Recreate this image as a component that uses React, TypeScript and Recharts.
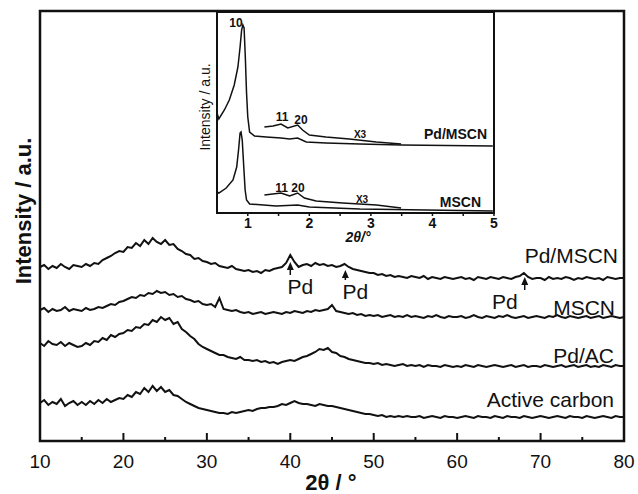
import React from 'react';
import { LineChart, Line, XAxis, YAxis, ReferenceArea, ReferenceLine, ReferenceDot } from 'recharts';

// 2theta grid (deg)
const theta = [
  10, 10.5, 11, 11.5, 12, 12.5, 13, 13.5, 14, 14.5,
  15, 15.5, 16, 16.5, 17, 17.5, 18, 18.5, 19, 19.5,
  20, 20.5, 21, 21.5, 22, 22.5, 23, 23.5, 24, 24.5,
  25, 25.5, 26, 26.5, 27, 27.5, 28, 28.5, 29, 29.5,
  30, 30.5, 31, 31.5, 32, 32.5, 33, 33.5, 34, 34.5,
  35, 35.5, 36, 36.5, 37, 37.5, 38, 38.5, 39, 39.5,
  40, 40.5, 41, 41.5, 42, 42.5, 43, 43.5, 44, 44.5,
  45, 45.5, 46, 46.5, 47, 47.5, 48, 48.5, 49, 49.5,
  50, 50.5, 51, 51.5, 52, 52.5, 53, 53.5, 54, 54.5,
  55, 55.5, 56, 56.5, 57, 57.5, 58, 58.5, 59, 59.5,
  60, 60.5, 61, 61.5, 62, 62.5, 63, 63.5, 64, 64.5,
  65, 65.5, 66, 66.5, 67, 67.5, 68, 68.5, 69, 69.5,
  70, 70.5, 71, 71.5, 72, 72.5, 73, 73.5, 74, 74.5,
  75, 75.5, 76, 76.5, 77, 77.5, 78, 78.5, 79, 79.5,
  80,
];

// stacked intensities (a.u., offset traces)
const pdMscn = [
  174, 176, 172, 175, 173, 177, 174, 172, 176, 175,
  174, 177, 175, 178, 177, 181, 183, 185, 188, 190,
  189, 194, 193, 198, 195, 201, 197, 203, 199, 197,
  201, 196, 197, 192, 190, 187, 186, 182, 183, 180,
  179, 177, 178, 175, 174, 173, 175, 172, 171, 170,
  171, 169, 170, 168, 171, 170, 172, 173, 174, 178,
  186, 179, 174, 176, 177, 175, 178, 176, 177, 175,
  176, 174, 175, 177, 174, 172, 171, 170, 169, 168,
  168, 166, 167, 165, 166, 164, 165, 164, 163, 165,
  164, 163, 165, 162, 164, 163, 162, 164, 163, 162,
  163, 164, 162, 163, 161, 164, 163, 162, 164, 163,
  162, 164, 163, 162, 164, 165, 168, 164, 162, 163,
  163, 161, 164, 162, 163, 162, 164, 163, 161, 163,
  162, 164, 163, 162, 163, 161, 164, 163, 162, 163,
  163,
];

const mscn = [
  131, 133, 129, 132, 130, 131, 134, 130, 132, 131,
  130, 133, 131, 132, 134, 133, 135, 137, 136, 139,
  140, 142, 144, 143, 146, 145, 148, 147, 150, 148,
  149, 146, 147, 144, 145, 142, 141, 139, 140, 137,
  136, 137, 134, 143, 132, 131, 130, 131, 129, 128,
  129, 127, 128, 129, 127, 128, 129, 128, 127, 129,
  128, 130, 129, 128, 130, 129, 131, 130, 131, 132,
  136, 130, 129, 128, 127, 128, 126, 127, 125, 126,
  125, 126, 124, 125, 126, 124, 125, 124, 126, 124,
  125, 124, 123, 125, 124, 126, 124, 123, 125, 124,
  124, 125, 123, 124, 126, 124, 123, 125, 124, 123,
  125, 124, 126, 124, 123, 124, 125, 123, 124, 125,
  124, 123, 125, 124, 126, 124, 123, 125, 124, 123,
  124, 125, 123, 124, 125, 123, 124, 125, 124, 123,
  124,
];

const pdAc = [
  98, 95, 100, 97, 96, 99, 95, 98, 96, 94,
  95, 98, 96, 100, 99, 103, 101, 106, 104, 107,
  108, 111, 110, 114, 113, 117, 116, 121, 119, 124,
  121, 123, 117, 119, 112, 109, 105, 102, 97, 94,
  92, 90, 88, 86, 86, 84, 83, 82, 84, 81,
  81, 80, 81, 79, 80, 78, 79, 77, 79, 80,
  81, 80, 82, 84, 85, 87, 89, 92, 91, 93,
  89, 88, 85, 84, 82, 81, 80, 79, 78, 78,
  77, 78, 76, 77, 76, 75, 76, 77, 75, 76,
  75, 76, 74, 76, 75, 75, 74, 76, 75, 74,
  75, 74, 76, 75, 74, 76, 75, 74, 75, 76,
  75, 74, 75, 76, 74, 75, 76, 74, 75, 75,
  74, 76, 75, 74, 75, 76, 74, 75, 76, 74,
  75, 76, 74, 75, 74, 76, 75, 74, 76, 75,
  75,
];

const activeCarbon = [
  38, 41, 36, 39, 37, 42, 35, 38, 40, 36,
  39, 36, 40, 37, 41, 38, 42, 39, 41, 43,
  42, 46, 44, 49, 47, 53, 49, 55, 50, 54,
  49, 51, 46, 45, 42, 39, 37, 35, 33, 32,
  31, 30, 29, 28, 28, 27, 29, 28, 29, 30,
  31, 30, 32, 33, 33, 34, 34, 35, 37, 36,
  38, 40, 38, 37, 37, 36, 35, 37, 36, 35,
  35, 34, 33, 32, 31, 30, 29, 28, 27, 27,
  26, 25, 26, 24, 25, 24, 25, 24, 25, 24,
  24, 25, 23, 24, 25, 24, 23, 25, 24, 24,
  23, 24, 25, 24, 23, 25, 24, 24, 23, 25,
  24, 23, 25, 24, 24, 23, 25, 24, 23, 24,
  25, 24, 23, 24, 25, 24, 23, 25, 24, 24,
  23, 25, 24, 23, 24, 25, 24, 23, 25, 24,
  24,
];

const xTicks = [10, 20, 30, 40, 50, 60, 70, 80];
const innerMajor = [20, 30, 40, 50, 60, 70];
const innerMinor = [15, 25, 35, 45, 55, 65, 75];

// Pd reflections: position, arrow tip and arrow tail intensity
const pdMarks = [
  { t: 40, tip: 179, tail: 166, side: 'right' },
  { t: 46.6, tip: 171, tail: 161, side: 'right' },
  { t: 68.1, tip: 164, tail: 151, side: 'left' },
];

// inset: low-angle XRD
const insetPdMain = [
  { t: 0.5, v: 100 }, { t: 0.53, v: 94 }, { t: 0.62, v: 103 }, { t: 0.7, v: 113 },
  { t: 0.78, v: 128 }, { t: 0.84, v: 146 }, { t: 0.875, v: 166 }, { t: 0.9, v: 183 },
  { t: 0.92, v: 188 }, { t: 0.94, v: 185 }, { t: 0.96, v: 156 }, { t: 0.98, v: 120 },
  { t: 1.0, v: 96 }, { t: 1.03, v: 81 }, { t: 1.11, v: 77 }, { t: 1.3, v: 76 },
  { t: 1.54, v: 75 }, { t: 1.68, v: 74 }, { t: 1.81, v: 75 }, { t: 1.95, v: 71 },
  { t: 2.27, v: 70 }, { t: 2.82, v: 69 }, { t: 3.49, v: 68 }, { t: 4.98, v: 67 },
];
const insetPdX3 = [
  { t: 1.27, v: 86 }, { t: 1.41, v: 87 }, { t: 1.54, v: 89 }, { t: 1.65, v: 85 },
  { t: 1.81, v: 88 }, { t: 1.89, v: 83 }, { t: 2.0, v: 78 }, { t: 2.27, v: 76 },
  { t: 2.65, v: 74 }, { t: 3.09, v: 71 }, { t: 3.49, v: 69 },
];
const insetMscnMain = [
  { t: 0.5, v: 21 }, { t: 0.53, v: 20 }, { t: 0.65, v: 25 }, { t: 0.76, v: 33 },
  { t: 0.82, v: 46 }, { t: 0.85, v: 63 }, { t: 0.875, v: 80 }, { t: 0.89, v: 81 },
  { t: 0.91, v: 73 }, { t: 0.935, v: 46 }, { t: 0.957, v: 23 }, { t: 0.98, v: 13 },
  { t: 1.03, v: 9 }, { t: 1.46, v: 7 }, { t: 1.81, v: 8 }, { t: 2.0, v: 6 },
  { t: 2.82, v: 4 }, { t: 4.98, v: 2 },
];
const insetMscnX3 = [
  { t: 1.27, v: 18 }, { t: 1.54, v: 20 }, { t: 1.68, v: 17 }, { t: 1.81, v: 20 },
  { t: 1.92, v: 15 }, { t: 2.11, v: 12 }, { t: 2.54, v: 10 }, { t: 3.09, v: 8 },
  { t: 3.49, v: 5 },
];
const insetTicks = [1, 1.5, 2, 2.5, 3, 3.5, 4, 4.5, 5];

const data = theta.map((t, i) => ({
  t,
  pdMscn: pdMscn[i],
  mscn: mscn[i],
  pdAc: pdAc[i],
  activeCarbon: activeCarbon[i],
}));

const font = '"Liberation Sans", Arial, sans-serif';
const ink = '#111';

const ArrowHead = (props: any) => {
  const { cx, cy } = props;
  return <polygon points={`${cx},${cy} ${cx - 3.5},${cy + 8} ${cx + 3.5},${cy + 8}`} fill={ink} />;
};

const pdLabel = (side: string) => (props: any) => {
  const { cx, cy } = props;
  const x = side === 'right' ? cx + 10 : cx - 20;
  return (
    <text x={x} y={cy + 19} textAnchor="middle" fontSize={21} fill={ink} fontFamily={font}>
      Pd
    </text>
  );
};

export default function App() {
  return (
    <div style={{ position: 'absolute', left: 0, top: 0, width: 638, height: 494, background: '#fff', fontFamily: font }}>
      {/* main wide-angle pattern */}
      <div style={{ position: 'absolute', left: 0, top: 0 }}>
        <LineChart width={638} height={494} data={data} margin={{ top: 11, right: 14, bottom: 23, left: 40 }}>
          <XAxis
            dataKey="t"
            type="number"
            domain={[10, 80]}
            ticks={xTicks}
            height={30}
            tickLine={false}
            axisLine={false}
            tickSize={0}
            tickMargin={14}
            tick={{ fontSize: 19, fill: ink, fontFamily: font }}
          />
          <YAxis hide width={0} domain={[0, 430]} />
          {innerMajor.map((t) => (
            <ReferenceLine key={`M${t}`} segment={[{ x: t, y: 0 }, { x: t, y: 8 }]} stroke={ink} strokeWidth={2} />
          ))}
          {innerMinor.map((t) => (
            <ReferenceLine key={`m${t}`} segment={[{ x: t, y: 0 }, { x: t, y: 4 }]} stroke={ink} strokeWidth={2} />
          ))}
          <Line dataKey="pdMscn" stroke={ink} strokeWidth={2} dot={false} isAnimationActive={false} />
          <Line dataKey="mscn" stroke={ink} strokeWidth={2} dot={false} isAnimationActive={false} />
          <Line dataKey="pdAc" stroke={ink} strokeWidth={2} dot={false} isAnimationActive={false} />
          <Line dataKey="activeCarbon" stroke={ink} strokeWidth={2} dot={false} isAnimationActive={false} />
          {pdMarks.map((m) => (
            <ReferenceLine key={`a${m.t}`} segment={[{ x: m.t, y: m.tail }, { x: m.t, y: m.tip - 4 }]} stroke={ink} strokeWidth={1.5} />
          ))}
          {pdMarks.map((m) => (
            <ReferenceDot key={`h${m.t}`} x={m.t} y={m.tip} shape={ArrowHead} ifOverflow="visible" />
          ))}
          {pdMarks.map((m) => (
            <ReferenceDot key={`l${m.t}`} x={m.t} y={m.tail} shape={pdLabel(m.side)} ifOverflow="visible" />
          ))}
          <ReferenceArea x1={10} x2={80} y1={0} y2={430} fill="none" stroke={ink} strokeWidth={2.5} ifOverflow="visible" />
        </LineChart>
      </div>

      {/* inset: small-angle pattern */}
      <div style={{ position: 'absolute', left: 200, top: 0 }}>
        <LineChart width={300} height={240} margin={{ top: 12, right: 6, bottom: 5, left: 17 }}>
          <XAxis
            dataKey="t"
            type="number"
            domain={[0.5, 5]}
            ticks={insetTicks}
            height={22}
            axisLine={false}
            tickSize={3}
            tickMargin={2}
            tickLine={{ stroke: ink, strokeWidth: 1.5 }}
            tickFormatter={(v: number) => (Number.isInteger(v) ? String(v) : '')}
            tick={{ fontSize: 14, fontWeight: 'bold', fill: ink, fontFamily: font }}
          />
          <YAxis hide width={0} domain={[0, 201]} />
          <Line data={insetPdMain} dataKey="v" stroke={ink} strokeWidth={1.5} dot={false} isAnimationActive={false} />
          <Line data={insetPdX3} dataKey="v" stroke={ink} strokeWidth={1.5} dot={false} isAnimationActive={false} />
          <Line data={insetMscnMain} dataKey="v" stroke={ink} strokeWidth={1.5} dot={false} isAnimationActive={false} />
          <Line data={insetMscnX3} dataKey="v" stroke={ink} strokeWidth={1.5} dot={false} isAnimationActive={false} />
          <ReferenceArea x1={0.5} x2={5} y1={0} y2={201} fill="none" stroke={ink} strokeWidth={2} ifOverflow="visible" />
        </LineChart>
      </div>

      {/* titles and labels */}
      <svg width={638} height={494} style={{ position: 'absolute', left: 0, top: 0, pointerEvents: 'none' }} fontFamily={font} fill={ink}>
        <text transform="translate(31,211) rotate(-90)" textAnchor="middle" fontSize={22} fontWeight="bold">
          Intensity / a.u.
        </text>
        <text x={331} y={490} textAnchor="middle" fontSize={22} fontWeight="bold">
          2θ / °
        </text>
        <text x={618} y={263} textAnchor="end" fontSize={21}>Pd/MSCN</text>
        <text x={615} y={315} textAnchor="end" fontSize={21}>MSCN</text>
        <text x={614} y={363} textAnchor="end" fontSize={21}>Pd/AC</text>
        <text x={614} y={407} textAnchor="end" fontSize={21}>Active carbon</text>

        <text transform="translate(210,107) rotate(-90)" textAnchor="middle" fontSize={14}>
          Intensity / a.u.
        </text>
        <text x={358} y={242} textAnchor="middle" fontSize={14} fontWeight="bold" fontStyle="italic">
          2θ/°
        </text>
        <text x={236} y={27} textAnchor="middle" fontSize={12} fontWeight="bold">10</text>
        <text x={282} y={121} textAnchor="middle" fontSize={12} fontWeight="bold">11</text>
        <text x={301} y={124} textAnchor="middle" fontSize={12} fontWeight="bold">20</text>
        <text x={360} y={138} textAnchor="middle" fontSize={10} fontWeight="bold">X3</text>
        <text x={487} y={139} textAnchor="end" fontSize={14} fontWeight="bold">Pd/MSCN</text>
        <text x={290} y={192} textAnchor="middle" fontSize={12} fontWeight="bold">11 20</text>
        <text x={362} y={203} textAnchor="middle" fontSize={10} fontWeight="bold">X3</text>
        <text x={481} y={207} textAnchor="end" fontSize={14} fontWeight="bold">MSCN</text>
      </svg>
    </div>
  );
}
